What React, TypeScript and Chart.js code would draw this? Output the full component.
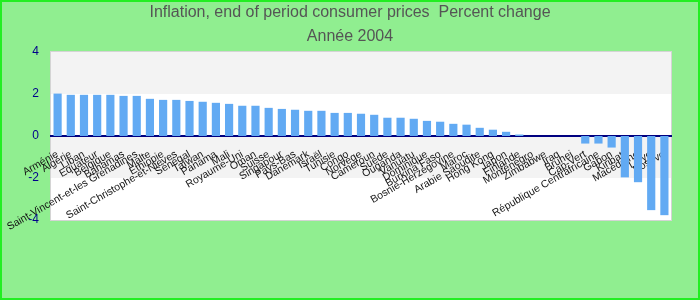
import React, { useEffect, useRef } from "react";
import { Chart, registerables } from "chart.js";

Chart.register(...registerables);

const titleLines = ["Inflation, end of period consumer prices  Percent change", "Année 2004"];

const countries = [
  "Arménie", "Algérie", "Liban", "Equateur", "Belgique", "Bahamas",
  "Saint-Vincent-et-les Grenadines", "Malte", "Ethiopie", "Saint-Christophe-et-Nieves",
  "Sénégal", "Taïwan", "Panama", "Mali", "Royaume-Uni", "Oman", "Suisse", "Singapour",
  "Pays-Bas", "Danemark", "Israël", "Tunisie", "Congo", "Norvège", "Cameroun", "Suède",
  "Ouganda", "Vanuatu", "Dominique", "Burkina Faso", "Bosnie-Herzégovine", "Maroc",
  "Arabie Saoudite", "Hong Kong", "Japon", "Finlande", "Monténégro", "Zimbabwe", "Iraq",
  "Brunei", "Cap-Vert", "République Centrafricaine", "Gabon", "Kiribati", "Macédoine",
  "Libye", "Kosovo",
];

const inflation: (number | null)[] = [
  2.02, 1.96, 1.96, 1.96, 1.96, 1.91,
  1.91, 1.77, 1.72, 1.72,
  1.67, 1.63, 1.58, 1.53, 1.44, 1.44, 1.34, 1.29,
  1.25, 1.2, 1.2, 1.1, 1.1, 1.06, 1.01, 0.87,
  0.87, 0.82, 0.72, 0.68, 0.58, 0.54,
  0.39, 0.3, 0.2, 0.07, null, null, null,
  null, -0.36, -0.36, -0.55, -1.97, -2.2,
  -3.53, -3.77,
];

const yMin = -4;
const yMax = 4;
const yStep = 2;

const bandPlugin = {
  id: "bands",
  beforeDraw(chart: any) {
    const { ctx, chartArea, scales } = chart;
    const y = scales.y;
    ctx.save();
    ctx.fillStyle = "#ffffff";
    ctx.fillRect(chartArea.left, chartArea.top, chartArea.right - chartArea.left, chartArea.bottom - chartArea.top);
    let i = 0;
    for (let v = yMax; v > yMin; v -= yStep) {
      const top = y.getPixelForValue(v);
      const bot = y.getPixelForValue(v - yStep);
      if (i % 2 === 0) {
        ctx.fillStyle = "#f3f3f3";
        ctx.fillRect(chartArea.left, top, chartArea.right - chartArea.left, bot - top);
      }
      i++;
    }
    ctx.strokeStyle = "#d4d4d4";
    ctx.lineWidth = 1;
    ctx.strokeRect(chartArea.left - 0.5, chartArea.top - 0.5, chartArea.right - chartArea.left + 1, chartArea.bottom - chartArea.top + 1);
    ctx.restore();
  },
};

export default function App() {
  const ref = useRef<HTMLCanvasElement | null>(null);

  useEffect(() => {
    if (!ref.current) return;
    const chart = new Chart(ref.current, {
      type: "bar",
      data: {
        labels: countries,
        datasets: [
          {
            data: inflation,
            backgroundColor: "#62aaf3",
            borderWidth: 0,
            barPercentage: 0.62,
            categoryPercentage: 1,
          },
        ],
      },
      options: {
        animation: false,
        responsive: false,
        maintainAspectRatio: false,
        layout: { padding: { top: 0, left: 0, right: 0, bottom: 80 } },
        plugins: {
          legend: { display: false },
          tooltip: { enabled: false },
          title: {
            display: true,
            text: titleLines,
            color: "#555555",
            font: { family: "'Liberation Sans', Arial, sans-serif", size: 16, weight: "normal", lineHeight: "23.5px" },
            padding: { top: 1, bottom: 4 },
          },
        },
        scales: {
          x: {
            position: { y: 0 } as any,
            z: 1,
            grid: { display: false, drawTicks: false },
            border: { display: true, color: "#000080", width: 2 },
            ticks: {
              autoSkip: false,
              minRotation: 30,
              maxRotation: 30,
              padding: 12,
              color: "#111111",
              font: { family: "'Liberation Sans', Arial, sans-serif", size: 10.5 },
            },
            afterFit: (scale: any) => {
              scale.paddingLeft = 0;
              scale.paddingRight = 29;
              scale.paddingTop = 0;
              scale.paddingBottom = 0;
            },
          },
          y: {
            min: yMin,
            max: yMax,
            grid: { display: false, drawTicks: false },
            border: { display: false },
            ticks: {
              stepSize: yStep,
              padding: 12,
              color: "#00008b",
              font: { family: "'Liberation Sans', Arial, sans-serif", size: 12 },
            },
            afterFit: (scale: any) => {
              scale.width = 51;
              scale.paddingTop = 0;
              scale.paddingBottom = 0;
            },
          },
        },
      },
      plugins: [bandPlugin],
    });
    return () => chart.destroy();
  }, []);

  return (
    <div style={{ position: "fixed", left: 0, top: 0, width: 700, height: 300, background: "#90ee90" }}>
      <canvas ref={ref} width={700} height={300} style={{ display: "block", width: 700, height: 300 }} />
      <div
        style={{
          position: "absolute",
          left: 0,
          top: 0,
          width: 700,
          height: 300,
          boxSizing: "border-box",
          border: "2px solid #22ee22",
          pointerEvents: "none",
        }}
      />
    </div>
  );
}
